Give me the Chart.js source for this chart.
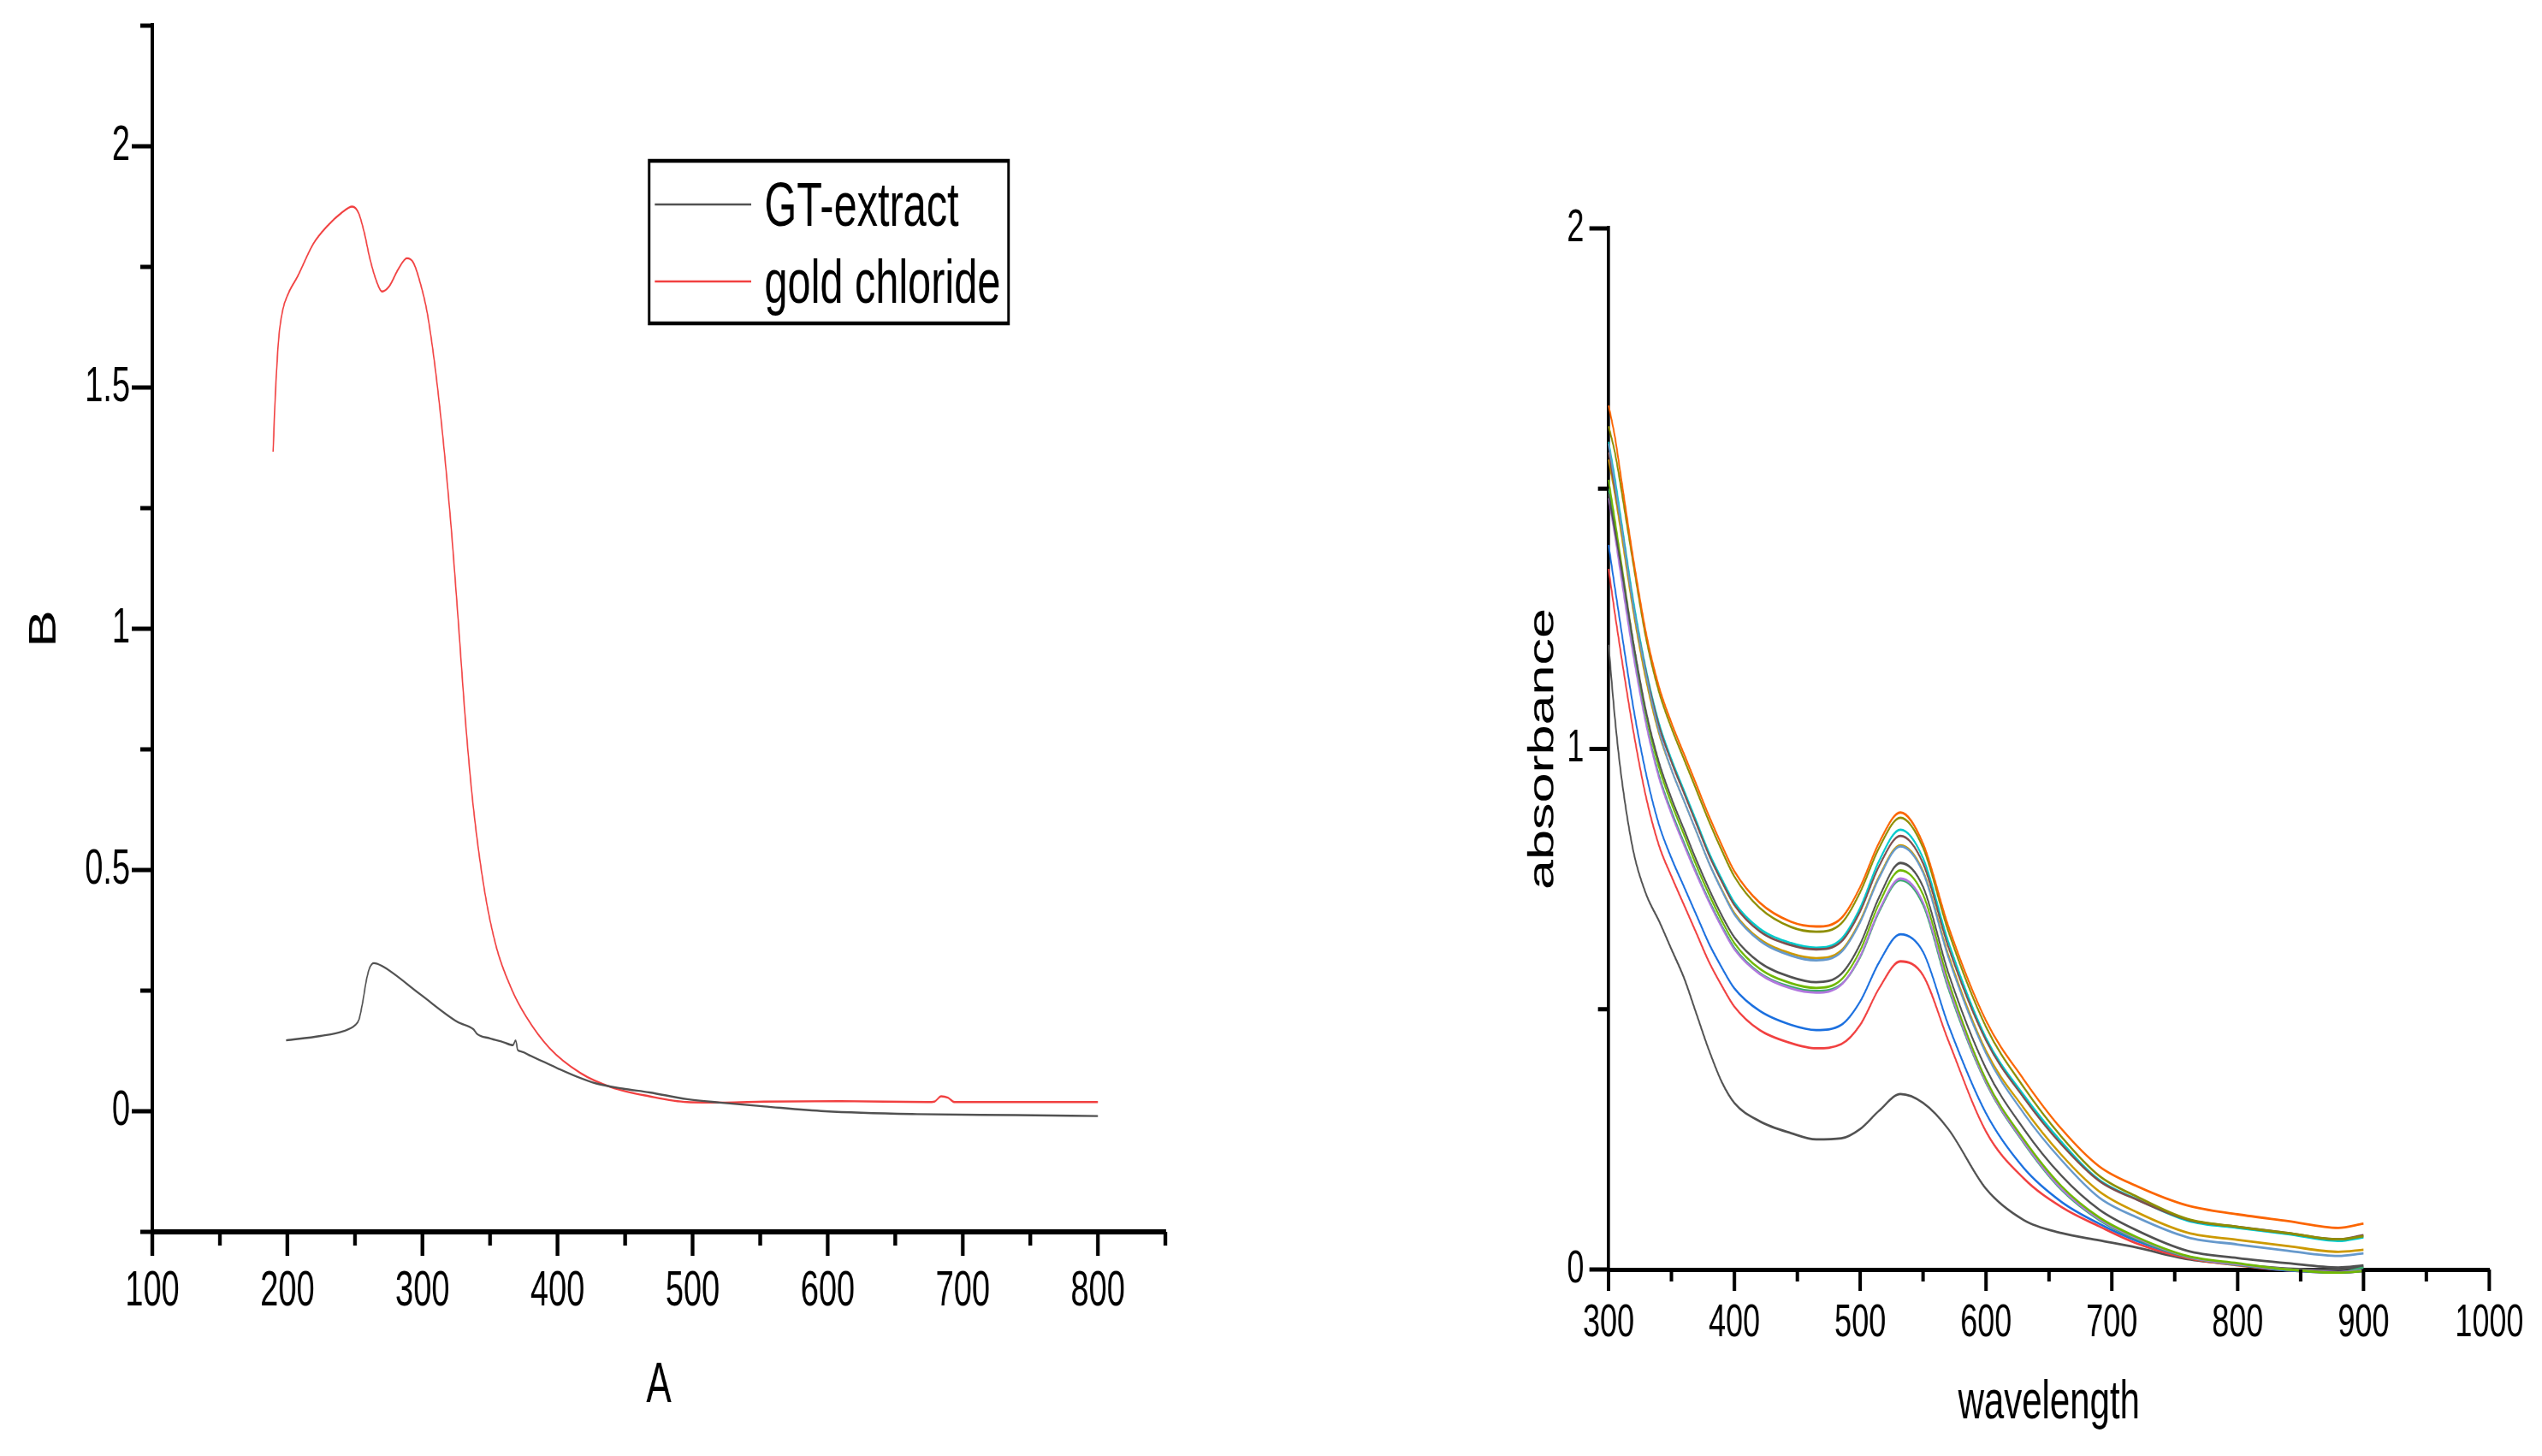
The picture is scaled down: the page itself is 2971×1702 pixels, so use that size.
<!DOCTYPE html>
<html>
<head>
<meta charset="utf-8">
<title>spectra</title>
<script src="https://cdn.jsdelivr.net/npm/chart.js@4.4.1/dist/chart.umd.min.js"></script>
<style>
    html, body { margin: 0; padding: 0; background: #ffffff; }
    body { width: 2971px; height: 1702px; position: relative; overflow: hidden; }
    /* the original figure is squeezed sideways, so each chart is drawn wide and scaled down in x */
    .squeeze { position: absolute; top: 0; transform: scaleX(0.6667); transform-origin: 0 0; }
    #left-wrap { left: 0; }
    #right-wrap { left: 1700px; }
</style>
</head>
<body>
<div id="left-wrap" class="squeeze"><canvas id="left-chart" width="2175" height="1702"></canvas></div>
<div id="right-wrap" class="squeeze"><canvas id="right-chart" width="1906" height="1702"></canvas></div>
<script>
// ---- left panel: GT-extract vs gold chloride ----
const extractX = [199, 224.5, 241.5, 250, 253, 255.6, 258.5, 261, 264, 270, 298, 326, 337.7, 340.5, 350, 360, 367, 369, 370.5, 373, 380, 390, 400, 414, 428, 448, 468, 496, 520, 553, 598, 666, 740, 800];
const extractY = [0.147, 0.156, 0.166, 0.178, 0.19, 0.224, 0.272, 0.298, 0.307, 0.301, 0.243, 0.185, 0.17, 0.16, 0.151, 0.143, 0.137, 0.147, 0.127, 0.124, 0.115, 0.102, 0.089, 0.072, 0.058, 0.047, 0.039, 0.025, 0.018, 0.01, 0.0, -0.006, -0.008, -0.01];

const goldX = [189.4, 191, 193.5, 196.5, 200.7, 207.5, 219, 230, 240, 248, 252.8, 257, 261, 266, 270, 275.4, 282, 288.5, 293, 297, 303.7, 312, 320.7, 326, 332, 337.7, 346, 354.7, 366, 377, 394, 417, 439.6, 467.9, 496, 524, 552.7, 609, 674, 679, 684, 689, 694, 740, 800];
const goldY = [1.367, 1.48, 1.6, 1.66, 1.695, 1.73, 1.797, 1.836, 1.862, 1.875, 1.861, 1.82, 1.768, 1.72, 1.699, 1.71, 1.745, 1.768, 1.76, 1.73, 1.652, 1.479, 1.228, 1.035, 0.803, 0.629, 0.456, 0.34, 0.253, 0.195, 0.131, 0.079, 0.05, 0.031, 0.019, 0.018, 0.02, 0.021, 0.019, 0.02, 0.031, 0.028, 0.019, 0.019, 0.019];

const leftXMajor = [100, 200, 300, 400, 500, 600, 700, 800];
const leftXMinor = [150, 250, 350, 450, 550, 650, 750, 850];
const leftYMajor = [0, 0.5, 1, 1.5, 2];
const leftYMinor = [-0.25, 0.25, 0.75, 1.25, 1.75, 2.25];

// ---- right panel: absorbance spectra ----
const wavelengths = [300, 305, 310, 320, 330, 340, 350, 360, 370, 380, 390, 400, 420, 445, 465, 485, 500, 515, 532, 550, 570, 600, 630, 660, 690, 720, 760, 800, 840, 880, 900];
const absGray1  = [1.20, 1.06, 0.95, 0.80, 0.72, 0.67, 0.615, 0.56, 0.49, 0.42, 0.36, 0.32, 0.285, 0.262, 0.25, 0.252, 0.27, 0.305, 0.337, 0.32, 0.27, 0.155, 0.095, 0.07, 0.056, 0.042, 0.02, 0.01, 0.002, 0.0, 0.005];
const absRed    = [1.346, 1.26, 1.18, 1.03, 0.905, 0.815, 0.755, 0.70, 0.645, 0.59, 0.545, 0.505, 0.46, 0.435, 0.425, 0.433, 0.47, 0.54, 0.592, 0.565, 0.44, 0.265, 0.175, 0.12, 0.083, 0.05, 0.022, 0.008, -0.002, -0.006, -0.003];
const absBlue   = [1.392, 1.31, 1.23, 1.075, 0.95, 0.855, 0.79, 0.735, 0.68, 0.625, 0.58, 0.54, 0.497, 0.47, 0.46, 0.47, 0.515, 0.59, 0.644, 0.61, 0.47, 0.30, 0.195, 0.13, 0.088, 0.055, 0.025, 0.01, -0.002, -0.006, -0.003];
const absGreen  = [1.50, 1.425, 1.345, 1.185, 1.05, 0.95, 0.88, 0.82, 0.762, 0.708, 0.66, 0.618, 0.57, 0.543, 0.535, 0.548, 0.60, 0.687, 0.748, 0.70, 0.54, 0.358, 0.243, 0.153, 0.095, 0.058, 0.024, 0.009, 0.0, -0.006, 0.004];
const absPurple = [1.482, 1.41, 1.33, 1.175, 1.045, 0.945, 0.875, 0.815, 0.758, 0.705, 0.657, 0.615, 0.568, 0.54, 0.532, 0.547, 0.602, 0.69, 0.751, 0.705, 0.545, 0.36, 0.245, 0.155, 0.097, 0.06, 0.025, 0.01, 0.0, -0.005, -0.002];
const absOchre  = [1.556, 1.49, 1.415, 1.26, 1.13, 1.03, 0.96, 0.90, 0.84, 0.78, 0.73, 0.685, 0.635, 0.607, 0.598, 0.613, 0.67, 0.755, 0.815, 0.765, 0.605, 0.42, 0.31, 0.22, 0.15, 0.11, 0.071, 0.057, 0.045, 0.034, 0.038];
const absCyan   = [1.59, 1.52, 1.44, 1.28, 1.15, 1.05, 0.98, 0.92, 0.86, 0.80, 0.75, 0.705, 0.655, 0.627, 0.618, 0.635, 0.695, 0.785, 0.845, 0.79, 0.63, 0.445, 0.335, 0.245, 0.172, 0.135, 0.094, 0.08, 0.068, 0.055, 0.062];
const absBrown  = [1.57, 1.50, 1.43, 1.27, 1.145, 1.045, 0.975, 0.915, 0.855, 0.795, 0.745, 0.70, 0.65, 0.623, 0.615, 0.63, 0.688, 0.775, 0.833, 0.78, 0.62, 0.44, 0.33, 0.24, 0.17, 0.134, 0.096, 0.082, 0.07, 0.058, 0.066];
const absOlive  = [1.62, 1.57, 1.50, 1.35, 1.21, 1.11, 1.04, 0.98, 0.92, 0.86, 0.805, 0.755, 0.695, 0.658, 0.649, 0.665, 0.725, 0.81, 0.868, 0.81, 0.65, 0.466, 0.35, 0.255, 0.18, 0.14, 0.097, 0.082, 0.07, 0.058, 0.064];
const absOrange = [1.66, 1.60, 1.52, 1.36, 1.22, 1.12, 1.05, 0.99, 0.93, 0.87, 0.815, 0.765, 0.705, 0.668, 0.659, 0.675, 0.735, 0.82, 0.878, 0.818, 0.66, 0.478, 0.365, 0.27, 0.198, 0.16, 0.123, 0.106, 0.093, 0.08, 0.088];
const absSteel  = [1.586, 1.51, 1.43, 1.27, 1.14, 1.035, 0.96, 0.90, 0.84, 0.78, 0.728, 0.682, 0.632, 0.603, 0.594, 0.61, 0.667, 0.752, 0.813, 0.762, 0.60, 0.415, 0.30, 0.21, 0.138, 0.10, 0.062, 0.048, 0.036, 0.026, 0.031];
const absLime   = [1.517, 1.44, 1.36, 1.20, 1.065, 0.965, 0.895, 0.835, 0.775, 0.72, 0.67, 0.627, 0.578, 0.55, 0.541, 0.557, 0.613, 0.703, 0.767, 0.72, 0.555, 0.365, 0.25, 0.16, 0.10, 0.062, 0.026, 0.012, 0.0, -0.006, -0.003];
const absGray2  = [1.49, 1.42, 1.35, 1.20, 1.07, 0.975, 0.905, 0.845, 0.785, 0.73, 0.68, 0.638, 0.59, 0.562, 0.552, 0.568, 0.625, 0.715, 0.781, 0.735, 0.57, 0.386, 0.27, 0.18, 0.115, 0.075, 0.036, 0.022, 0.012, 0.004, 0.008];

const rightXMajor = [300, 400, 500, 600, 700, 800, 900, 1000];
const rightXMinor = [350, 450, 550, 650, 750, 850, 950];
const rightYMajor = [0, 1, 2];
const rightYMinor = [0.5, 1.5];

const FONT = "'Liberation Sans', Arial, sans-serif";

function toPoints(xs, ys) {
    return xs.map((x, i) => ({ x: x, y: ys[i] }));
}

// major / minor tick marks drawn outside the axes, placed through the scales
const axisTicks = {
    id: 'axisTicks',
    afterDraw(chart, args, opts) {
        const ctx = chart.ctx;
        const area = chart.chartArea;
        const xs = chart.scales.x;
        const ys = chart.scales.y;
        ctx.save();
        ctx.strokeStyle = '#000';
        ctx.lineCap = 'butt';

        const xStart = area.bottom + opts.xBorder;
        ctx.lineWidth = opts.xTickWidth;
        const drawX = (v, len) => {
            const px = xs.getPixelForValue(v);
            ctx.beginPath();
            ctx.moveTo(px, area.bottom);
            ctx.lineTo(px, xStart + len);
            ctx.stroke();
        };
        opts.xMajor.forEach(v => drawX(v, opts.xMajorLen));
        opts.xMinor.forEach(v => drawX(v, opts.xMinorLen));

        const yStart = area.left - opts.yBorder;
        ctx.lineWidth = opts.yTickWidth;
        const drawY = (v, len) => {
            const py = ys.getPixelForValue(v);
            ctx.beginPath();
            ctx.moveTo(area.left, py);
            ctx.lineTo(yStart - len, py);
            ctx.stroke();
        };
        opts.yMajor.forEach(v => drawY(v, opts.yMajorLen));
        opts.yMinor.forEach(v => drawY(v, opts.yMinorLen));
        ctx.restore();
    }
};

// boxed legend inside the plot, like the Origin one
const boxLegend = {
    id: 'boxLegend',
    afterDraw(chart, args, opts) {
        if (!opts.show) return;
        const ctx = chart.ctx;
        ctx.save();
        ctx.strokeStyle = '#000';
        ctx.lineWidth = opts.frameWidth;
        ctx.strokeRect(opts.x, opts.y, opts.w, opts.h);
        ctx.font = opts.size + 'px ' + FONT;
        ctx.textBaseline = 'alphabetic';
        ctx.textAlign = 'left';
        chart.data.datasets.forEach((ds, i) => {
            const lineY = opts.lineY + i * opts.rowGap;
            ctx.strokeStyle = ds.borderColor;
            ctx.lineWidth = opts.sampleWidth;
            ctx.beginPath();
            ctx.moveTo(opts.lineX0, lineY);
            ctx.lineTo(opts.lineX1, lineY);
            ctx.stroke();
            ctx.fillStyle = '#000';
            ctx.fillText(ds.label, opts.textX, opts.baseline + i * opts.rowGap);
        });
        ctx.restore();
    }
};

function axisOptions(min, max, majors, size, pad, fitSize, horizontal, borderWidth, title) {
    return {
        type: 'linear',
        min: min,
        max: max,
        afterFit: s => {
            if (horizontal) s.height = fitSize; else s.width = fitSize;
            // labels never reach the ends of these axes, so no extra room is wanted
            s.paddingTop = 0;
            s.paddingBottom = 0;
            s.paddingLeft = 0;
            s.paddingRight = 0;
        },
        afterBuildTicks: s => {
            s.ticks = majors.map(v => ({ value: v }));
        },
        grid: { display: true, drawOnChartArea: false, drawTicks: false },
        border: { display: true, color: '#000', width: borderWidth },
        ticks: {
            color: '#000',
            padding: pad,
            autoSkip: false,
            maxRotation: 0,
            font: { family: FONT, size: size },
            callback: v => String(v)
        },
        title: title
    };
}

function createLeftChart() {
    const canvas = document.getElementById('left-chart');
    new Chart(canvas, {
        type: 'scatter',
        data: {
            datasets: [{
                label: 'GT-extract',
                data: toPoints(extractX, extractY),
                borderColor: '#515151',
                borderWidth: 2.4,
                showLine: true,
                pointRadius: 0,
                cubicInterpolationMode: 'monotone'
            }, {
                label: 'gold chloride',
                data: toPoints(goldX, goldY),
                borderColor: '#f14040',
                borderWidth: 2.4,
                showLine: true,
                pointRadius: 0,
                cubicInterpolationMode: 'monotone'
            }]
        },
        options: {
            responsive: false,
            animation: false,
            devicePixelRatio: 1,
            layout: { padding: { top: 30, right: 132, left: 0, bottom: 0 } },
            plugins: {
                legend: { display: false },
                tooltip: { enabled: false },
                axisTicks: {
                    xMajor: leftXMajor, xMinor: leftXMinor, yMajor: leftYMajor, yMinor: leftYMinor,
                    xBorder: 6, yBorder: 6, xTickWidth: 6.5, yTickWidth: 5,
                    xMajorLen: 22, xMinorLen: 10, yMajorLen: 30, yMinorLen: 15
                },
                boxLegend: {
                    show: true, x: 1138, y: 188, w: 630, h: 190, frameWidth: 4.5,
                    lineX0: 1148, lineX1: 1317, lineY: 239, rowGap: 90, sampleWidth: 2.6,
                    textX: 1340, baseline: 264, size: 73
                }
            },
            scales: {
                x: axisOptions(100, 850, leftXMajor, 57, 36, 262, true, 6, {
                    display: true, text: 'A', color: '#000',
                    font: { family: FONT, size: 66, lineHeight: 1 },
                    padding: { top: 0, bottom: 48 }
                }),
                y: axisOptions(-0.25, 2.25, leftYMajor, 57, 39, 267, false, 6, {
                    display: true, text: 'B', color: '#000',
                    font: { family: FONT, size: 66, lineHeight: 1 },
                    padding: { top: 46, bottom: 0 }
                })
            }
        },
        plugins: [axisTicks, boxLegend]
    });
}

function createRightChart() {
    const canvas = document.getElementById('right-chart');
    const series = [
        ['1', absGray1, '#515151'],
        ['2', absRed, '#f14040'],
        ['3', absBlue, '#1a6fdf'],
        ['4', absGreen, '#37ad6b'],
        ['5', absPurple, '#b177de'],
        ['6', absOchre, '#cc9900'],
        ['7', absCyan, '#00cbcc'],
        ['8', absBrown, '#7d4e4e'],
        ['9', absOlive, '#8e8e00'],
        ['10', absOrange, '#fb6501'],
        ['11', absSteel, '#6699cc'],
        ['12', absLime, '#6fb802'],
        ['13', absGray2, '#515151']
    ];
    const datasets = series.map((s, i) => ({
        label: s[0],
        data: toPoints(wavelengths, s[1]),
        borderColor: s[2],
        borderWidth: 2.8,
        showLine: true,
        pointRadius: 0,
        cubicInterpolationMode: 'monotone',
        clip: false,
        order: series.length - i
    }));

    new Chart(canvas, {
        type: 'scatter',
        data: { datasets: datasets },
        options: {
            responsive: false,
            animation: false,
            devicePixelRatio: 1,
            layout: { padding: { top: 267, right: 92, left: 0, bottom: 0 } },
            plugins: {
                legend: { display: false },
                tooltip: { enabled: false },
                axisTicks: {
                    xMajor: rightXMajor, xMinor: rightXMinor, yMajor: rightYMajor, yMinor: rightYMinor,
                    xBorder: 5, yBorder: 5.5, xTickWidth: 6, yTickWidth: 5,
                    xMajorLen: 20, xMinorLen: 9, yMajorLen: 28, yMinorLen: 13
                },
                boxLegend: { show: false }
            },
            scales: {
                x: axisOptions(300, 1000, rightXMajor, 54, 31, 218, true, 5, {
                    display: true, text: 'wavelength', color: '#000',
                    font: { family: FONT, size: 63, lineHeight: 1 },
                    padding: { top: 0, bottom: 30 }
                }),
                y: axisOptions(0, 2, rightYMajor, 54, 43, 270, false, 5.5, {
                    display: true, text: 'absorbance', color: '#000',
                    font: { family: FONT, size: 63, lineHeight: 1 },
                    padding: { top: 124, bottom: 0 }
                })
            }
        },
        plugins: [axisTicks]
    });
}

createLeftChart();
createRightChart();
</script>
</body>
</html>
